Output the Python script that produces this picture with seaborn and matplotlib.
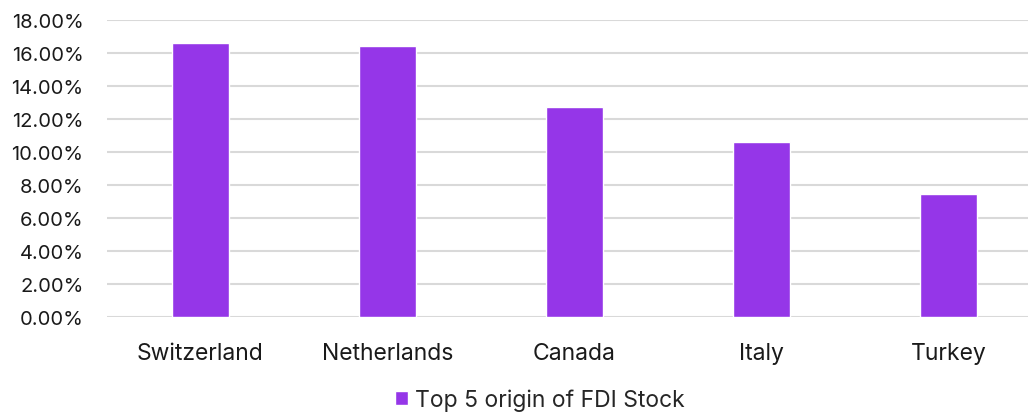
import numpy as np
import pandas as pd
import matplotlib.pyplot as plt
import seaborn as sns
from matplotlib.ticker import PercentFormatter
from matplotlib.patches import Patch

# data
countries = ['Switzerland', 'Netherlands', 'Canada', 'Italy', 'Turkey']
shares = [16.6, 16.4, 12.7, 10.6, 7.45]
series_name = 'Top 5 origin of FDI Stock'

df = pd.DataFrame({'country': countries, 'share': shares})

sns.set_style('white')
plt.rcParams['font.family'] = ['Inter', 'DejaVu Sans']

fig = plt.figure(figsize=(10.28, 4.14), dpi=100)
# plot area: spacing of ~187px per category
ax = fig.add_axes([107/1028, 1 - 318/414, 935/1028, (318-21)/414])

bar_color = '#9536E8'
sns.barplot(data=df, x='country', y='share', color=bar_color, width=0.31,
            saturation=1, ax=ax, zorder=3)

ax.set_ylim(0, 18)
ax.set_xlim(-0.5, 4.5)
ax.set_yticks(np.arange(0, 18.1, 2))
ax.yaxis.set_major_formatter(PercentFormatter(decimals=2))
ax.grid(axis='y', color='#d9d9d9', linewidth=1.5, zorder=0)
for s in ax.spines.values():
    s.set_visible(False)
ax.set_xlabel('')
ax.set_ylabel('')
ax.tick_params(axis='both', length=0, colors='#1a1a1a')
ax.tick_params(axis='x', pad=18, labelsize=16.5)
ax.tick_params(axis='y', pad=17, labelsize=14.5)

handle = [Patch(facecolor=bar_color, label=series_name)]
fig.legend(handles=handle, loc='lower center', bbox_to_anchor=(0.525, -0.045),
           frameon=False, fontsize=16.5, handlelength=0.55, handleheight=0.55,
           handletextpad=0.3)

fig.savefig('out.png', dpi=100)
